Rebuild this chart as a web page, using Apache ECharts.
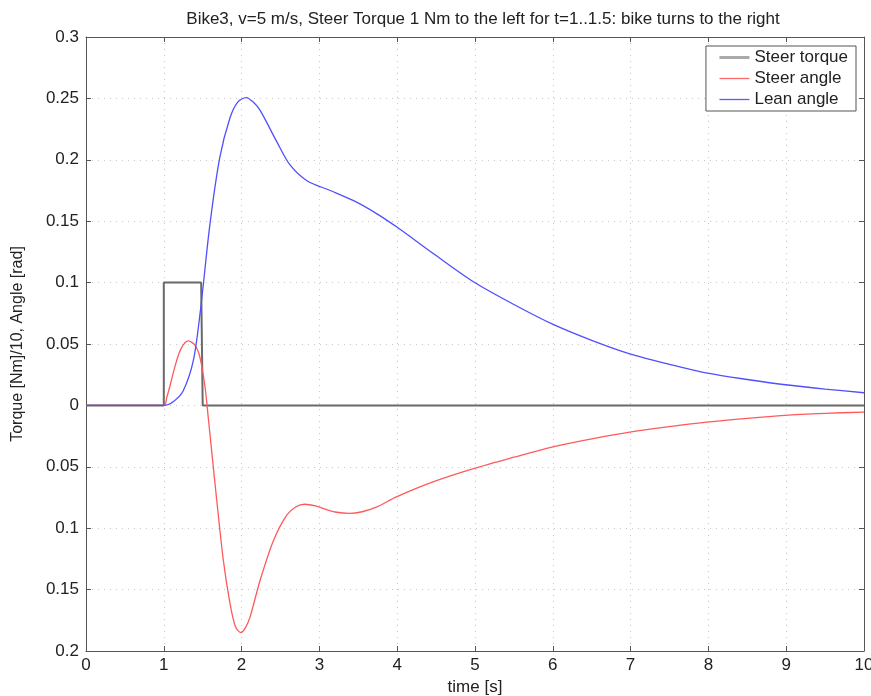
<!DOCTYPE html>
<html>
<head>
<meta charset="utf-8">
<script src="https://cdn.jsdelivr.net/npm/echarts@6/dist/echarts.min.js"></script>
<style>
  html, body { margin: 0; padding: 0; background: #fff; }
  #chart { width: 871px; height: 696px; }
</style>
</head>
<body>
<div id="chart"></div>
<script>
// time [s] and values
var torqueT = [0, 1, 1, 1.48, 1.5, 10];
var torqueV = [0, 0, 0.1, 0.1, 0, 0];   // Nm / 10

var steerT = [0, 1, 1.04, 1.08, 1.14, 1.22, 1.315, 1.4, 1.465, 1.53, 1.57, 1.615, 1.68, 1.765, 1.85, 1.92, 1.99, 2.05, 2.11, 2.24, 2.41, 2.58, 2.7, 2.81, 2.95, 3.05, 3.2, 3.39, 3.55, 3.74, 3.99, 4.46, 4.98, 5.5, 5.99, 6.5, 6.99, 7.5, 7.98, 8.5, 8.98, 9.5, 10];
var steerV = [0, 0, 0.007, 0.016, 0.031, 0.046, 0.0525, 0.049, 0.039, 0.015, -0.009, -0.037, -0.077, -0.126, -0.161, -0.18, -0.185, -0.181, -0.172, -0.142, -0.11, -0.0894, -0.0825, -0.0805, -0.0818, -0.084, -0.0868, -0.088, -0.0866, -0.0827, -0.0745, -0.0623, -0.0515, -0.0422, -0.0339, -0.0272, -0.0217, -0.0172, -0.0136, -0.0105, -0.0081, -0.0065, -0.0054];

var leanT = [0, 1, 1.12, 1.25, 1.38, 1.47, 1.594, 1.72, 1.85, 1.95, 2.06, 2.15, 2.24, 2.45, 2.62, 2.84, 3.14, 3.44, 3.74, 4, 4.5, 4.99, 5.5, 5.99, 6.5, 6.99, 7.5, 7.99, 8.5, 8.99, 9.5, 10];
var leanV = [0, 0, 0.003, 0.012, 0.0366, 0.077, 0.148, 0.202, 0.234, 0.247, 0.2507, 0.247, 0.24, 0.215, 0.196, 0.183, 0.175, 0.1667, 0.156, 0.145, 0.122, 0.1003, 0.0822, 0.0664, 0.053, 0.042, 0.0335, 0.0263, 0.0211, 0.0168, 0.0133, 0.0103];

var legendNames = ['Steer torque', 'Steer angle', 'Lean angle'];
var titleText = 'Bike3, v=5 m/s, Steer Torque 1 Nm to the left for t=1..1.5: bike turns to the right';

function pairs(t, v) {
    return t.map(function (x, i) { return [x, v[i]]; });
}

var font = 'Liberation Sans, Arial, sans-serif';
var frame = '#555';
var gridLine = { show: true, lineStyle: { color: '#c8c8c8', type: [1, 5], width: 1 } };

function frameAxis(extra) {
    var a = {
        type: 'value',
        axisLine: { show: true, onZero: false, lineStyle: { color: frame } },
        axisTick: { show: true, inside: true, length: 5, lineStyle: { color: frame } },
        axisLabel: { show: false },
        splitLine: { show: false }
    };
    for (var k in extra) a[k] = extra[k];
    return a;
}

var chart = echarts.init(document.getElementById('chart'));
var option = {
    animation: false,
    title: {
        text: titleText,
        left: 478,
        top: 6,
        textAlign: 'center',
        textStyle: { fontFamily: font, fontSize: 17, fontWeight: 'normal', color: '#222' }
    },
    legend: {
        orient: 'vertical',
        right: 15,
        top: 46,
        padding: [3, 8, 3, 12],
        itemWidth: 30,
        itemHeight: 14,
        itemGap: 4,
        backgroundColor: '#fff',
        borderColor: frame,
        borderWidth: 1,
        borderRadius: 0,
        itemStyle: { opacity: 0 },
        textStyle: { fontFamily: font, fontSize: 17, color: '#222' },
        data: [
            { name: legendNames[0], lineStyle: { color: '#aaa', width: 3 } },
            { name: legendNames[1], lineStyle: { color: '#ff6a6a', width: 1.3 } },
            { name: legendNames[2], lineStyle: { color: '#5a5aff', width: 1.3 } }
        ]
    },
    grid: { left: 86, right: 7, top: 37, bottom: 45, containLabel: false, outerBoundsMode: 'none' },
    xAxis: [frameAxis({
        min: 0, max: 10, interval: 1,
        name: 'time [s]', nameLocation: 'middle', nameGap: 27,
        nameTextStyle: { fontFamily: font, fontSize: 17, color: '#222' },
        axisLabel: { fontFamily: font, fontSize: 17, color: '#222', margin: 6 },
        splitLine: gridLine
    }), frameAxis({ min: 0, max: 10, interval: 1, position: 'top' })],
    yAxis: [frameAxis({
        min: -0.2, max: 0.3, interval: 0.05,
        name: 'Torque [Nm]/10, Angle [rad]', nameLocation: 'middle', nameGap: 60,
        nameTextStyle: { fontFamily: font, fontSize: 16, color: '#222' },
        axisLabel: {
            fontFamily: font, fontSize: 17, color: '#222', margin: 7,
            formatter: function (v) { return String(parseFloat(Math.abs(v).toFixed(2))); }
        },
        splitLine: gridLine
    }), frameAxis({ min: -0.2, max: 0.3, interval: 0.05, position: 'right' })],
    series: [{
        name: legendNames[0], type: 'line', symbol: 'none',
        data: pairs(torqueT, torqueV),
        lineStyle: { color: '#6a6a6a', width: 2 }
    }, {
        name: legendNames[1], type: 'line', symbol: 'none', smooth: 0.3,
        data: pairs(steerT, steerV),
        lineStyle: { color: '#ff5a5a', width: 1.3 }
    }, {
        name: legendNames[2], type: 'line', symbol: 'none', smooth: 0.3,
        data: pairs(leanT, leanV),
        lineStyle: { color: '#4f4fff', width: 1.3 }
    }]
};
chart.setOption(option);
</script>
</body>
</html>
